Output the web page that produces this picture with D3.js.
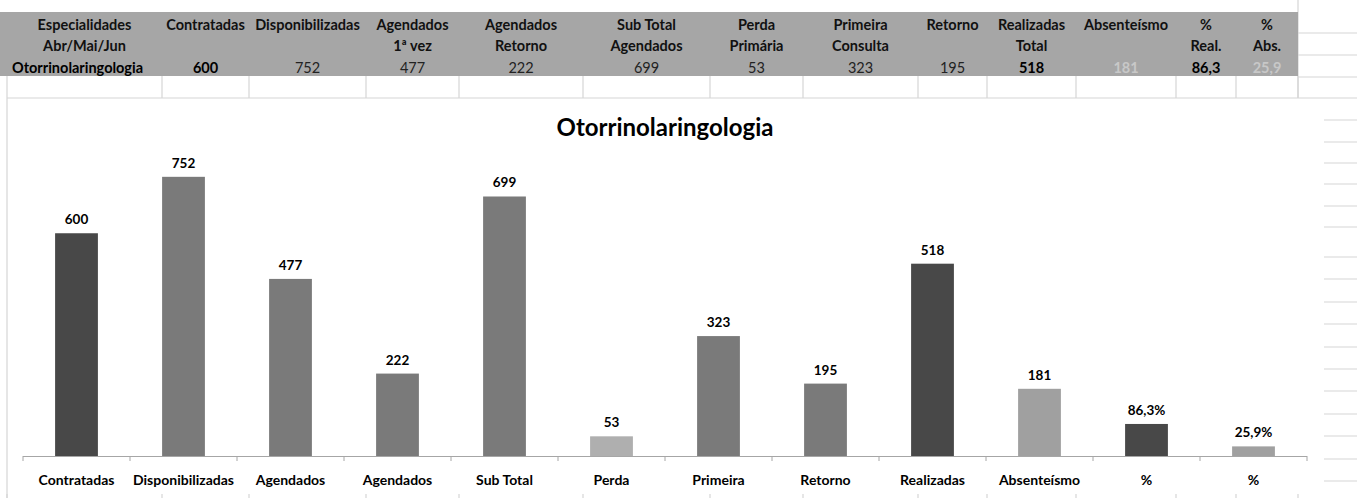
<!DOCTYPE html>
<html>
<head>
<meta charset="utf-8">
<script src="https://cdn.jsdelivr.net/npm/d3@7"></script>
<style>
body { margin: 0; background: #fff; }
svg { display: block; font-family: Lato, "Liberation Sans", sans-serif; }
</style>
</head>
<body>
<script>
// dados
var categories = ["Contratadas", "Disponibilizadas", "Agendados", "Agendados", "Sub Total", "Perda",
                  "Primeira", "Retorno", "Realizadas", "Absenteísmo", "%", "%"];
var values = [600, 752, 477, 222, 699, 53, 323, 195, 518, 181, 86.3, 25.9];
var valueLabels = ["600", "752", "477", "222", "699", "53", "323", "195", "518", "181", "86,3%", "25,9%"];
var barColors = ["#484848", "#7a7a7a", "#7a7a7a", "#7a7a7a", "#7a7a7a", "#afafaf",
                 "#7a7a7a", "#7a7a7a", "#484848", "#a0a0a0", "#484848", "#a0a0a0"];

// tabela
var headLine1 = ["Especialidades", "Contratadas", "Disponibilizadas", "Agendados", "Agendados", "Sub Total",
                 "Perda", "Primeira", "Retorno", "Realizadas", "Absenteísmo", "%", "%"];
var headLine2 = ["Abr/Mai/Jun", "", "", "1ª vez", "Retorno", "Agendados",
                 "Primária", "Consulta", "", "Total", "", "Real.", "Abs."];
var rowValues = ["Otorrinolaringologia", "600", "752", "477", "222", "699", "53", "323", "195", "518", "181", "86,3", "25,9"];
var rowBold = [true, true, false, false, false, false, false, false, false, true, true, true, true];
var rowColor = ["#000", "#000", "#222", "#222", "#222", "#222", "#222", "#222", "#222", "#000", "#c8c8c8", "#000", "#c8c8c8"];

var width = 1357, height = 498;
var colEdges = [7, 162, 249, 366, 459, 583, 710, 803, 918, 987, 1076, 1176, 1236, 1298];

var svg = d3.select("body").append("svg")
  .attr("width", width)
  .attr("height", height);

var grid = "#d6d6d6";

// linhas da planilha
var g0 = svg.append("g").attr("stroke", grid).attr("stroke-width", 1.2);
colEdges.forEach(function(x) {
  g0.append("line").attr("x1", x).attr("x2", x).attr("y1", 76).attr("y2", 98);
  g0.append("line").attr("x1", x).attr("x2", x).attr("y1", 494).attr("y2", 498);
});
g0.append("line").attr("x1", 1298).attr("x2", 1298).attr("y1", 0).attr("y2", 98);
[33, 55, 77].forEach(function(y) {
  g0.append("line").attr("x1", 1298).attr("x2", width).attr("y1", y).attr("y2", y);
});
g0.append("line").attr("x1", 7).attr("x2", width).attr("y1", 98).attr("y2", 98);
g0.append("line").attr("x1", 7).attr("x2", 7).attr("y1", 98).attr("y2", 498);
var rightRows = [120, 142, 163, 184, 206, 227, 257, 279, 302, 324, 347, 369, 391, 414, 436, 459, 481];
rightRows.forEach(function(y) {
  g0.append("line").attr("x1", 1324).attr("x2", width).attr("y1", y).attr("y2", y);
});

// cabeçalho cinza
svg.append("rect").attr("x", 0).attr("y", 12).attr("width", 1298).attr("height", 64).attr("fill", "#a6a6a6");

var tbl = svg.append("g").attr("font-size", 14.5).attr("text-anchor", "middle");
var colCenter = function(i) { return (colEdges[i] + colEdges[i + 1]) / 2; };

headLine1.forEach(function(t, i) {
  tbl.append("text").attr("x", colCenter(i)).attr("y", 30).attr("font-weight", "bold").attr("fill", "#111").text(t);
});
headLine2.forEach(function(t, i) {
  tbl.append("text").attr("x", colCenter(i)).attr("y", 51).attr("font-weight", "bold").attr("fill", "#111").text(t);
});
rowValues.forEach(function(t, i) {
  tbl.append("text")
    .attr("x", i === 0 ? 12 : colCenter(i))
    .attr("text-anchor", i === 0 ? "start" : "middle")
    .attr("y", 73)
    .attr("font-weight", rowBold[i] ? "bold" : "normal")
    .attr("fill", rowColor[i])
    .text(t);
});

// gráfico
var x = d3.scaleBand()
  .domain(d3.range(categories.length))
  .range([23, 1307])
  .paddingInner(0.6)
  .paddingOuter(0.3);

var y = d3.scaleLinear()
  .domain([0, 800])
  .range([456, 159]);

svg.append("text")
  .attr("x", 665).attr("y", 136)
  .attr("text-anchor", "middle")
  .attr("font-weight", "bold")
  .attr("font-size", 24)
  .text("Otorrinolaringologia");

svg.selectAll("rect.bar")
  .data(values)
  .enter()
  .append("rect")
  .attr("class", "bar")
  .attr("x", function(d, i) { return x(i); })
  .attr("y", function(d) { return y(d); })
  .attr("width", x.bandwidth())
  .attr("height", function(d) { return y(0) - y(d); })
  .attr("fill", function(d, i) { return barColors[i]; });

svg.selectAll("text.val")
  .data(values)
  .enter()
  .append("text")
  .attr("class", "val")
  .attr("x", function(d, i) { return x(i) + x.bandwidth() / 2; })
  .attr("y", function(d) { return y(d) - 9; })
  .attr("text-anchor", "middle")
  .attr("font-weight", "bold")
  .attr("font-size", 13.5)
  .text(function(d, i) { return valueLabels[i]; });

// eixo
var axis = d3.axisBottom(x)
  .tickSize(0)
  .tickPadding(19)
  .tickFormat(function(i) { return categories[i]; });

var gx = svg.append("g")
  .attr("transform", "translate(0," + y(0) + ")")
  .call(axis);
gx.select(".domain").remove();
gx.selectAll("text")
  .attr("font-family", "Lato, 'Liberation Sans', sans-serif")
  .attr("font-size", 14)
  .attr("font-weight", "bold")
  .attr("fill", "#000");

svg.append("line")
  .attr("x1", x.range()[0]).attr("x2", x.range()[1])
  .attr("y1", y(0) + 0.5).attr("y2", y(0) + 0.5)
  .attr("stroke", "#a6a6a6");

d3.range(categories.length + 1).forEach(function(k) {
  var xx = x.range()[0] + k * x.step();
  svg.append("line")
    .attr("x1", xx).attr("x2", xx)
    .attr("y1", y(0)).attr("y2", y(0) + 5)
    .attr("stroke", "#a6a6a6");
});
</script>
</body>
</html>
